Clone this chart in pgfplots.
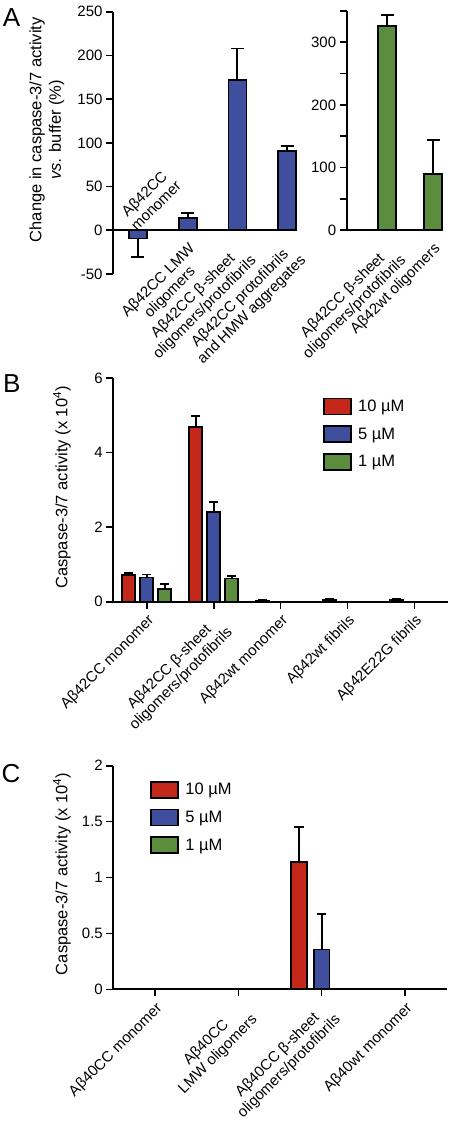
\documentclass[border=0pt]{standalone}
\usepackage{fontspec}
\setmainfont{Liberation Sans}
\usepackage{pgfplots}
\pgfplotsset{compat=1.18}
\definecolor{cred}{RGB}{196,40,26}
\definecolor{cblue}{RGB}{64,78,158}
\definecolor{cgreen}{RGB}{92,140,62}
\newcommand{\tlf}{\fontsize{15bp}{16.5bp}\selectfont}
\newcommand{\ylf}{\fontsize{16.5bp}{19.5bp}\selectfont}
\newcommand{\lgf}{\fontsize{16.5bp}{18bp}\selectfont}
\pgfplotsset{
  myax/.style={
    scale only axis,
    axis line style={line width=2bp, -},
    tick style={line width=1.6bp, black},
    major tick length=7bp, minor tick length=7bp,
    tick label style={font=\tlf},
    label style={font=\ylf},
    legend image code/.code={\draw[#1] (0bp,-8bp) rectangle (27bp,8bp); \path (33.7bp,0bp);},
  },
  mybar/.style={ybar, bar shift=0bp, draw=black, line width=1.7bp, fill=#1},
  myerr/.style n args={2}{error bars/.cd, y dir=#1, y explicit,
    error bar style={line width=1.8bp, black},
    error mark options={rotate=90, mark size=#2, line width=1.8bp, black}},
}
\begin{document}
\begin{tikzpicture}
\useasboundingbox (0,0) rectangle (450bp,-1123bp);
% ---------------- Panel A, left
\begin{axis}[myax,
  at={(113bp,-274bp)}, anchor=south west, width=184bp, height=262.3bp,
  xmin=-0.503, xmax=3.2, ymin=-50, ymax=250,
  axis y line=left, axis x line=middle,
  axis line style={line width=2bp, -},
  tick align=outside,
  ytick={-50,0,50,100,150,200,250},
  yticklabels={-50,0,50,100,150,200,250},
  xtick={0,1,2,3},
  major x tick style={draw=none},
  xticklabels={{},{Aβ42CC LMW\\oligomers},{Aβ42CC β-sheet\\oligomers/protofibrils},{Aβ42CC protofibrils\\and HMW aggregates}},
  xticklabel style={rotate=45, anchor=north east, align=center},
  ylabel={Change in caspase-3/7 activity\\\textit{vs.} buffer (\%)},
  ylabel style={align=center, at={(axis description cs:-0.36,0.55)}, anchor=center},
]
\addplot[mybar=cblue, bar width=18bp, myerr={plus}{6.5bp}]
  coordinates {(1,14.4) +- (0,5.6) (2,172) +- (0,36) (3,91) +- (0,5.6)};
\addplot[mybar=cblue, bar width=18bp, myerr={minus}{6.5bp}]
  coordinates {(0,-9.5) +- (0,21.5)};
\node[rotate=45, align=center, font=\tlf] at (axis cs:0.24,35) {Aβ42CC\\monomer};
\end{axis}
% ---------------- Panel A, right
\begin{axis}[myax,
  at={(346.7bp,-230bp)}, anchor=south west, width=96.6bp, height=219bp,
  xmin=-0.876, xmax=1.224, ymin=0, ymax=350,
  axis y line=left, axis x line=bottom,
  axis line style={line width=2bp, -},
  tick align=outside,
  ytick={0,100,200,300}, yticklabels={0,100,200,300},
  minor ytick={50,150,250,350},
  xtick={0,1},
  major x tick style={draw=none},
  xticklabels={{Aβ42CC β-sheet\\oligomers/protofibrils},{Aβ42wt oligomers}},
  xticklabel style={rotate=45, anchor=north east, align=center},
]
\addplot[mybar=cgreen, bar width=18bp, myerr={plus}{6.5bp}]
  coordinates {(0,326) +- (0,18) (1,90) +- (0,54)};
\end{axis}
% ---------------- Panel B
\begin{axis}[myax,
  at={(113.3bp,-601.7bp)}, anchor=south west, width=334.7bp, height=223.7bp,
  xmin=-0.5, xmax=4.5, ymin=0, ymax=6,
  axis y line=left, axis x line=bottom,
  axis line style={line width=2bp, -},
  tick align=outside,
  ytick={0,2,4,6}, yticklabels={0,2,4,6},
  xtick={0,1,2,3,4},
  xticklabels={{Aβ42CC monomer},{Aβ42CC β-sheet\\oligomers/protofibrils},{Aβ42wt monomer},{Aβ42wt fibrils},{Aβ42E22G fibrils}},
  xticklabel style={rotate=45, anchor=north east, align=center},
  ylabel={Caspase-3/7 activity (x 10\textsuperscript{4})},
  ylabel style={at={(axis description cs:-0.153,0.511)}, anchor=center},
  legend style={at={(axis description cs:0.626,0.912)}, anchor=north west,
    draw=none, fill=none, inner sep=0pt, outer sep=0pt, row sep=10bp,
    font=\lgf, nodes={inner sep=0pt}},
  legend cell align=left,
]
% 10 uM (offset -0.269), 5 uM (0), 1 uM (+0.269)
\addplot[mybar=cred, bar width=13bp, myerr={plus}{4.5bp}]
  coordinates {(-0.269,0.72) +- (0,0.06) (0.731,4.69) +- (0,0.29) (1.731,0.03) +- (0,0.02) (2.731,0.05) +- (0,0.02) (3.731,0.05) +- (0,0.02)};
\addplot[mybar=cblue, bar width=13bp, myerr={plus}{4.5bp}]
  coordinates {(0,0.65) +- (0,0.08) (1,2.40) +- (0,0.27)};
\addplot[mybar=cgreen, bar width=13bp, myerr={plus}{4.5bp}]
  coordinates {(0.269,0.34) +- (0,0.13) (1.269,0.62) +- (0,0.08)};
\legend{10 µM, 5 µM, 1 µM}
\end{axis}
% ---------------- Panel C
\begin{axis}[myax,
  at={(113.3bp,-989.3bp)}, anchor=south west, width=333.4bp, height=223.6bp,
  xmin=-0.5, xmax=3.5, ymin=0, ymax=2,
  axis y line=left, axis x line=bottom,
  axis line style={line width=2bp, -},
  tick align=outside,
  ytick={0,0.5,1,1.5,2}, yticklabels={0,0.5,1,1.5,2},
  xtick={0,1,2,3},
  xticklabels={{Aβ40CC monomer},{Aβ40CC\\LMW oligomers},{Aβ40CC β-sheet\\oligomers/protofibrils},{Aβ40wt monomer}},
  xticklabel style={rotate=45, anchor=north east, align=center},
  ylabel={Caspase-3/7 activity (x 10\textsuperscript{4})},
  ylabel style={at={(axis description cs:-0.154,0.516)}, anchor=center},
  legend style={at={(axis description cs:0.110,0.932)}, anchor=north west,
    draw=none, fill=none, inner sep=0pt, outer sep=0pt, row sep=10bp,
    font=\lgf, nodes={inner sep=0pt}},
  legend cell align=left,
]
\addplot[mybar=cred, bar width=15.5bp, myerr={plus}{4.7bp}]
  coordinates {(1.728,1.14) +- (0,0.31)};
\addplot[mybar=cblue, bar width=15.5bp, myerr={plus}{4.7bp}]
  coordinates {(2,0.357) +- (0,0.32)};
\addlegendimage{mybar=cgreen}
\legend{10 µM, 5 µM, 1 µM}
\end{axis}
% panel letters
\node[font=\fontsize{26bp}{26bp}\selectfont] at (11.5bp,-18bp) {A};
\node[font=\fontsize{26bp}{26bp}\selectfont] at (11.7bp,-384bp) {B};
\node[font=\fontsize{26bp}{26bp}\selectfont] at (11bp,-774bp) {C};
\end{tikzpicture}
\end{document}
